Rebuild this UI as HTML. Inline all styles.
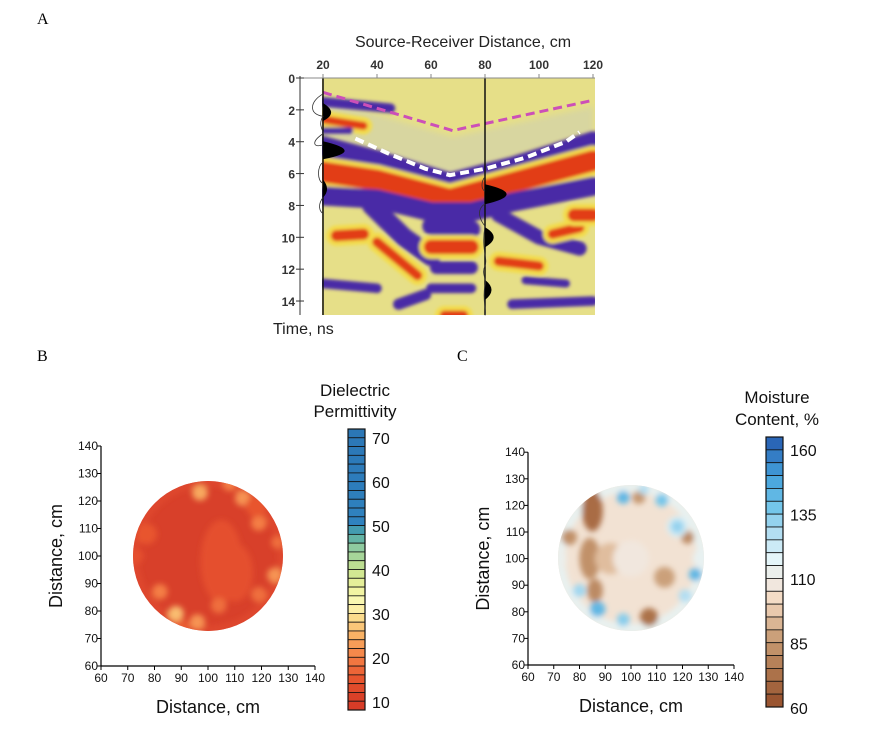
<!DOCTYPE html>
<html><head><meta charset="utf-8"><style>
body{margin:0;background:#fff}
svg{display:block}
text{font-family:"Liberation Sans",Arial,sans-serif}
</style></head><body>
<svg id="s" width="877" height="737" viewBox="0 0 877 737" xmlns="http://www.w3.org/2000/svg">
<defs>
<filter id="bl" x="-20%" y="-20%" width="140%" height="140%"><feGaussianBlur stdDeviation="1.6"/></filter>
<filter id="bl2" x="-50%" y="-50%" width="200%" height="200%"><feGaussianBlur stdDeviation="3"/></filter>
<clipPath id="clipA"><rect x="322" y="78" width="273" height="237"/></clipPath>
<clipPath id="clipB"><circle cx="208" cy="556" r="75"/></clipPath>
<clipPath id="clipC"><circle cx="631" cy="558" r="73"/></clipPath>
</defs>
<text x="37" y="24" font-size="16" style="font-family:'Liberation Serif',serif">A</text>
<text x="37" y="361" font-size="16" style="font-family:'Liberation Serif',serif">B</text>
<text x="457" y="361" font-size="16" style="font-family:'Liberation Serif',serif">C</text>
<g id="gA"></g>
<g id="gB"></g>
<g id="gC"></g>
</svg>
<script>
// ---------- Panel A data ----------
const aXTicks=[20,40,60,80,100,120];
const aTTicks=[0,2,4,6,8,10,12,14];
const pinkX=[20,68,120], pinkT=[0.9,3.3,1.4];
const whiteX=[32,45,58,67,80,95,110,115], whiteT=[3.8,4.8,5.7,6.1,5.7,5.0,4.0,3.4];
const bandX=[
 [20,40,67,90,120],[20,40,67,85,120],[20,40,60,75,90,120],
 [20,35],[20,30],[38,50,60],[60,75],[60,75],[62,75],[40,55],[25,35],
 [85,100,115],[105,115],[113,120],[48,58],[20,45],[85,100],[95,110],[60,75],[90,120],[20,40],[65,72]
];
const bandT=[
 [4.3,5.2,6.6,5.6,4.0],[5.9,6.4,7.6,6.8,5.2],[7.4,7.6,8.4,8.4,7.8,6.8],
 [2.6,3.0],[3.3,3.3],[8.0,10.0,11.2],[9.3,9.5],[10.6,10.6],[11.9,11.9],[10.3,12.4],[9.9,9.8],
 [8.6,10.0,10.7],[9.8,9.4],[8.6,8.6],[14.2,13.6],[1.5,1.9],[11.5,11.8],[12.7,12.9],[13.2,13.2],[14.2,14.0],[12.9,13.2],[14.9,14.9]
];
const bandW=[1.3,1.3,1.2,0.5,0.4,1.2,1.1,0.9,0.8,0.6,0.7,0.9,0.6,0.8,0.7,0.6,0.6,0.5,0.6,0.6,0.6,0.6];
const bandK=['p','r','p','r','p','p','p','r','p','r','r','p','r','r','p','p','r','p','p','p','p','r'];
const leftLobeT=[2.2,4.6,7.0], leftLobeA=[3,8,1.5];
const rightLobeT=[7.3,10.0,13.3], rightLobeA=[10,4,3];

// ---------- Panel B data ----------
const bTicks=[60,70,80,90,100,110,120,130,140];
const bBarLabels=[70,60,50,40,30,20,10];
const blobBx=[105,110,97,108,113,119,126,125,119,82,88,96,104,77,73,118,90];
const blobBy=[98,94,123,126,121,112,105,93,86,87,79,76,82,108,100,118,74];
const blobBr=[8,7,3,2.5,3,3,2.5,3,3,3,3,3,3,4,3,4,3];
const blobBv=[14,14,24,20,22,20,18,22,18,20,26,22,18,15,14,15,16];

// ---------- Panel C data ----------
const blobCx=[85,84,86,76,107,113,122,103,92,118,97,112,118,125,121,80,87,97,105,70,128,100];
const blobCy=[118,100,88,108,78,93,108,123,100,112,123,122,112,94,86,88,81,77,126,100,100,100];
const blobCr=[4,4,3,3,3.5,4,2.5,2.5,6,4,2.5,2.5,2.5,2.5,2.5,2.5,3,2.5,2,5,4,7];
const blobCv=[68,80,78,80,70,85,78,82,92,118,140,135,130,140,125,128,140,132,125,110,112,105];
const cBarLabels=[160,135,110,85,60];

const NS='http://www.w3.org/2000/svg';
function mk(tag,attrs,parent){const e=document.createElementNS(NS,tag);for(const k in attrs)e.setAttribute(k,attrs[k]);parent.appendChild(e);return e;}
function txt(s,attrs,parent){const e=mk('text',attrs,parent);e.textContent=s;return e;}
function lerpColor(stops,v){
  if(v<=stops[0][0])return '#'+stops[0][1];
  for(let i=1;i<stops.length;i++){if(v<=stops[i][0]){const a=stops[i-1],b=stops[i];const f=(v-a[0])/(b[0]-a[0]);
    const ca=a[1].match(/\w\w/g).map(h=>parseInt(h,16)),cb=b[1].match(/\w\w/g).map(h=>parseInt(h,16));
    return '#'+ca.map((c,j)=>Math.round(c+(cb[j]-c)*f).toString(16).padStart(2,'0')).join('');}}
  return '#'+stops[stops.length-1][1];}

// ===== Panel A =====
const gA=document.getElementById('gA');
const xA=c=>323+(c-20)*2.7, yA=t=>78+t*15.93;
txt('Source-Receiver Distance, cm',{x:463,y:47,'font-size':16,'text-anchor':'middle',fill:'#222'},gA);
txt('Time, ns',{x:273,y:334,'font-size':16,fill:'#222'},gA);
const img=mk('g',{'clip-path':'url(#clipA)'},gA);


mk('rect',{x:322,y:78,width:273,height:237,fill:'#e6df88'},img);
const inner=mk('g',{filter:'url(#bl2)'},img);
mk('path',{d:'M'+xA(20)+','+yA(1.3)+' L'+xA(68)+','+yA(3.7)+' L'+xA(120)+','+yA(1.8)+' L'+xA(120)+','+yA(3.4)+' L'+xA(67)+','+yA(6.1)+' L'+xA(20)+','+yA(3.6)+'Z',fill:'#d8d6a0'},inner);
const bands=mk('g',{filter:'url(#bl)'},img);
bandX.forEach((xs,i)=>{
  const d=xs.map((x,j)=>(j?'L':'M')+xA(x).toFixed(1)+','+yA(bandT[i][j]).toFixed(1)).join(' ');
  const col=bandK[i]==='p'?'#4a2aa6':'#e23e16';
  if(bandK[i]==='r')mk('path',{d,fill:'none',stroke:'#f3dc4c','stroke-width':(bandW[i]+0.6)*15.93,'stroke-linecap':'round','stroke-linejoin':'round'},bands);
  const p=mk('path',{d,fill:'none',stroke:col,'stroke-width':bandW[i]*15.93,'stroke-linecap':'round','stroke-linejoin':'round'},bands);
  
  
});
const pk=mk('path',{d:pinkX.map((x,j)=>(j?'L':'M')+xA(x)+','+yA(pinkT[j])).join(' '),fill:'none',stroke:'#cc4fb8','stroke-width':3,'stroke-dasharray':'9,5'},gA);


const wh=mk('path',{d:whiteX.map((x,j)=>(j?'L':'M')+xA(x)+','+yA(whiteT[j])).join(' '),fill:'none',stroke:'#fff','stroke-width':4,'stroke-dasharray':'9,5'},gA);


const x20=xA(20), x80=xA(80);
mk('line',{x1:x20,y1:78,x2:x20,y2:315,stroke:'#111','stroke-width':1.5},gA);
mk('line',{x1:x80,y1:78,x2:x80,y2:315,stroke:'#111','stroke-width':1.5},gA);
leftLobeT.forEach((t,i)=>{const y=yA(t),a=leftLobeA[i]*2.7;
  const l=mk('path',{d:`M${x20},${y-10} Q${x20+a*2},${y} ${x20},${y+8} Z`,fill:'#000'},gA);
  });
rightLobeT.forEach((t,i)=>{const y=yA(t),a=rightLobeA[i]*2.7;
  const l=mk('path',{d:`M${x80},${y-10} Q${x80+a*1.6},${y} ${x80},${y+10} Z`,fill:'#000'},gA);
  });
mk('path',{d:`M${x20},${yA(1)} C${x20-14},${yA(1.5)} ${x20-14},${yA(2.3)} ${x20},${yA(2.4)} C${x20-6},${yA(3)} ${x20+2},${yA(3.4)} ${x20},${yA(3.5)} C${x20-12},${yA(4)} ${x20-10},${yA(4.4)} ${x20},${yA(4.2)} M${x20},${yA(5.3)} C${x20-6},${yA(5.5)} ${x20-6},${yA(6.5)} ${x20},${yA(6.6)} M${x20},${yA(7.5)} C${x20-6},${yA(8)} ${x20-3},${yA(8.4)} ${x20},${yA(8.5)}`,fill:'none',stroke:'#333','stroke-width':0.8},gA);
mk('path',{d:`M${x80},${yA(6.2)} C${x80-4},${yA(6.5)} ${x80-4},${yA(7)} ${x80},${yA(7.1)} M${x80},${yA(7.9)} C${x80-10},${yA(8.3)} ${x80-4},${yA(9)} ${x80},${yA(9.3)} C${x80-4},${yA(10.8)} ${x80+3},${yA(11.3)} ${x80},${yA(11.8)} C${x80-4},${yA(12.3)} ${x80+2},${yA(12.6)} ${x80},${yA(13)} C${x80-3},${yA(14)} ${x80+2},${yA(14.6)} ${x80},${yA(14.9)}`,fill:'none',stroke:'#333','stroke-width':0.8},gA);
mk('line',{x1:300,y1:78,x2:595,y2:78,stroke:'#888','stroke-width':1},gA);
mk('line',{x1:300,y1:76,x2:300,y2:315,stroke:'#333','stroke-width':1},gA);
aXTicks.forEach(v=>{const t=txt(String(v),{x:xA(v),y:69,'font-size':12,'font-weight':'bold','text-anchor':'middle',fill:'#333'},gA);
  
  mk('line',{x1:xA(v),y1:74,x2:xA(v),y2:78,stroke:'#888'},gA);});
aTTicks.forEach(v=>{const t=txt(String(v),{x:295,y:yA(v)+5,'font-size':12,'font-weight':'bold','text-anchor':'end',fill:'#333'},gA);
  
  mk('line',{x1:296,y1:yA(v),x2:304,y2:yA(v),stroke:'#333'},gA);});

// ===== Map helper =====
function drawMap(g,opt){
  const {xs,ys,clip,baseCol,bx,by,br,bv,col,cx,cy,rad}=opt;
  const x0=xs(60),x1=xs(140),y0=ys(60),y1=ys(140);
  mk('line',{x1:x0,y1:y0,x2:x1,y2:y0,stroke:'#000','stroke-width':1.2},g);
  mk('line',{x1:x0,y1:y0,x2:x0,y2:y1,stroke:'#000','stroke-width':1.2},g);
  bTicks.forEach(v=>{
    mk('line',{x1:xs(v),y1:y0,x2:xs(v),y2:y0+4,stroke:'#000'},g);
    mk('line',{x1:x0-4,y1:ys(v),x2:x0,y2:ys(v),stroke:'#000'},g);
    const a=txt(String(v),{x:xs(v),y:y0+16,'font-size':12,'text-anchor':'middle',fill:'#111'},g);
    
    const b=txt(String(v),{x:x0-3,y:ys(v)+4,'font-size':12,'text-anchor':'end',fill:'#111'},g);
    
  });
  const xl=txt('Distance, cm',{x:(x0+x1)/2,y:y0+47,'font-size':18,'text-anchor':'middle',fill:'#111'},g);
  
  const yl=txt('Distance, cm',{x:0,y:0,'font-size':18,'text-anchor':'middle',fill:'#111',transform:`translate(${x0-39},${(y0+y1)/2}) rotate(-90)`},g);
  
  const m=mk('g',{'clip-path':clip},g);
  
  
  mk('circle',{cx,cy,r:rad+2,fill:baseCol},m);
  const inner=mk('g',{filter:'url(#bl2)'},m);
  if(opt.ring)mk('circle',{cx,cy,r:rad-2,fill:'none',stroke:opt.ring,'stroke-width':opt.ringW||10},inner);
  bx.forEach((x,i)=>{
    const e=mk('ellipse',{cx:xs(x),cy:ys(by[i]),rx:br[i]*2.6,ry:br[i]*2.6*(opt.elong&&opt.elong[i]||1),fill:col(bv[i])},inner);
    
    
  });
}
function drawBar(g,opt){
  const {x,top,bot,vals,col,labels,ys}=opt;
  const n=vals.length,h=(bot-top)/n;
  vals.forEach((v,i)=>{const r=mk('rect',{x,y:top+i*h,width:17,height:h,fill:col(v),stroke:'#111','stroke-width':0.8},g);
    });
  mk('rect',{x,y:top,width:17,height:bot-top,fill:'none',stroke:'#111','stroke-width':1.2},g);
  labels.forEach(v=>{const t=txt(String(v),{x:x+24,y:ys(v)+6,'font-size':16,fill:'#111'},g);
    });
}

// ===== Panel B =====
const stopsB=[[10,'d73c27'],[15,'e8552e'],[20,'f47e45'],[25,'f9b265'],[30,'fbe596'],[32,'fdf9b8'],[36,'eef29c'],[40,'c8e48e'],[45,'8fcba0'],[48,'4fa9a8'],[51,'2f82bf'],[72,'2b76b6']];
const colB=v=>lerpColor(stopsB,v);
const gB=document.getElementById('gB');
drawMap(gB,{xs:v=>101+(v-60)*2.675,ys:v=>666-(v-60)*2.75,clip:'url(#clipB)',baseCol:'#d8402a',bx:blobBx,by:blobBy,br:blobBr,bv:blobBv,col:colB,cx:208,cy:556,rad:75,ring:'#e04a2d',ringW:6,elong:[2,1.6]});
txt('Dielectric',{x:355,y:396,'font-size':17,'text-anchor':'middle',fill:'#111'},gB);
txt('Permittivity',{x:355,y:417,'font-size':17,'text-anchor':'middle',fill:'#111'},gB);
const segB=[];for(let v=71;v>=9;v-=2)segB.push(v);
drawBar(gB,{x:348,top:429,bot:710,vals:segB,col:colB,labels:bBarLabels,ys:v=>702-(v-10)*4.4});

// ===== Panel C =====
const stopsC=[[60,'9a5531'],[72,'b0784f'],[85,'cba07a'],[95,'e9c9ad'],[100,'f4dcc6'],[105,'f1e7de'],[110,'ebefec'],[115,'e4f5f9'],[125,'b3def2'],[135,'74c6ea'],[147,'44a2dc'],[160,'2a66b7']];
const colC=v=>lerpColor(stopsC,v);
const gC=document.getElementById('gC');
drawMap(gC,{xs:v=>528+(v-60)*2.575,ys:v=>665-(v-60)*2.66,clip:'url(#clipC)',baseCol:'#f2e2d3',bx:blobCx,by:blobCy,br:blobCr,bv:blobCv,col:colC,cx:631,cy:558,rad:73,ring:'#e8f1f0',ringW:10,elong:[2,2,1.5]});
txt('Moisture',{x:777,y:403,'font-size':17,'text-anchor':'middle',fill:'#111'},gC);
txt('Content, %',{x:777,y:425,'font-size':17,'text-anchor':'middle',fill:'#111'},gC);
const segC=[];for(let v=160;v>=60;v-=5)segC.push(v);
drawBar(gC,{x:766,top:437,bot:707,vals:segC,col:colC,labels:cBarLabels,ys:v=>450+(160-v)*2.58});
</script>
</body></html>
